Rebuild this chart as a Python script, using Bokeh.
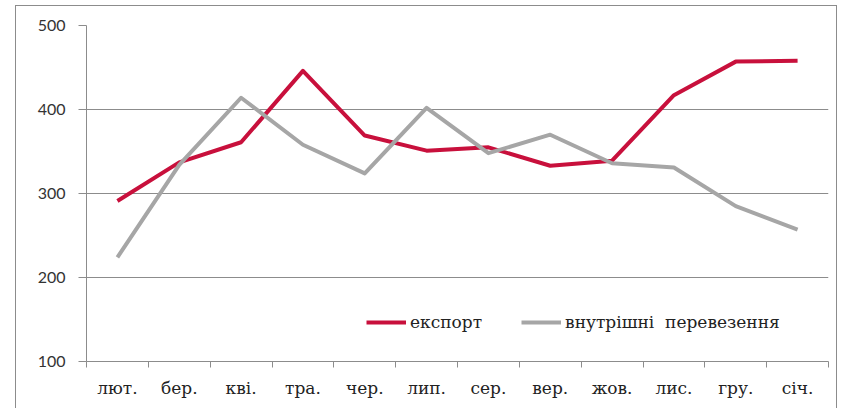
from bokeh.plotting import figure
from bokeh.models import FixedTicker, Range1d, Legend, LegendItem, ColumnDataSource
from bokeh.embed import file_html
from bokeh.resources import INLINE

months = ["лют.", "бер.", "кві.", "тра.", "чер.", "лип.", "сер.", "вер.", "жов.", "лис.", "гру.", "січ."]
export = [291, 337, 361, 446, 369, 351, 355, 333, 339, 417, 457, 458]
domestic = [224, 334, 414, 358, 324, 402, 348, 370, 336, 331, 285, 257]
y_ticks = [100, 200, 300, 400, 500]

xs = [i + 0.5 for i in range(len(months))]
src = ColumnDataSource(dict(x=xs, export=export, domestic=domestic))

SERIF = "DejaVu Serif"
SANS = "Lato"

p = figure(width=822, height=404, output_backend="svg", toolbar_location=None,
           x_range=Range1d(0, len(months)), y_range=Range1d(100, 500),
           min_border_left=70, min_border_right=10, min_border_top=19, min_border_bottom=49,
           styles={"border": "1px solid #8c8c8c", "margin-left": "15px", "margin-top": "5px"})
p.outline_line_color = None
p.background_fill_color = "white"
p.border_fill_color = "white"

r1 = p.line("x", "export", source=src, line_color="#c8103c", line_width=4, line_join="round")
r2 = p.line("x", "domestic", source=src, line_color="#a6a6a6", line_width=4, line_join="round")

# x axis
p.xaxis.ticker = FixedTicker(ticks=xs, minor_ticks=list(range(len(months) + 1)))
p.xaxis.major_label_overrides = {x: m for x, m in zip(xs, months)}
p.xaxis.major_tick_line_color = None
p.xaxis.minor_tick_line_color = "#8c8c8c"
p.xaxis.minor_tick_out = 6
p.xaxis.minor_tick_in = 0
p.xaxis.axis_line_color = "#8c8c8c"
p.xaxis.major_label_standoff = 10
p.xaxis.major_label_text_font = SERIF
p.xaxis.major_label_text_font_size = "17px"
p.xaxis.major_label_text_color = "#222222"
p.xgrid.grid_line_color = None

# y axis
p.yaxis.ticker = FixedTicker(ticks=y_ticks)
p.yaxis.minor_tick_line_color = None
p.yaxis.major_tick_line_color = "#8c8c8c"
p.yaxis.major_tick_out = 8
p.yaxis.major_tick_in = 0
p.yaxis.axis_line_color = "#8c8c8c"
p.yaxis.major_label_standoff = 13
p.yaxis.major_label_text_font = SANS
p.yaxis.major_label_text_font_size = "16px"
p.yaxis.major_label_text_color = "#333333"
p.ygrid.grid_line_color = "#8c8c8c"
p.ygrid.grid_line_width = 1

legend = Legend(items=[LegendItem(label="експорт", renderers=[r1]),
                       LegendItem(label="внутрішні  перевезення", renderers=[r2])],
                location=(280, 29), orientation="horizontal",
                border_line_color=None, background_fill_alpha=0,
                glyph_width=40, glyph_height=20, label_standoff=4, spacing=39,
                padding=0, margin=0,
                label_text_font=SERIF, label_text_font_size="17px", label_text_color="#222222")
p.add_layout(legend, "center")

open("out.html", "w").write(file_html(p, INLINE))
